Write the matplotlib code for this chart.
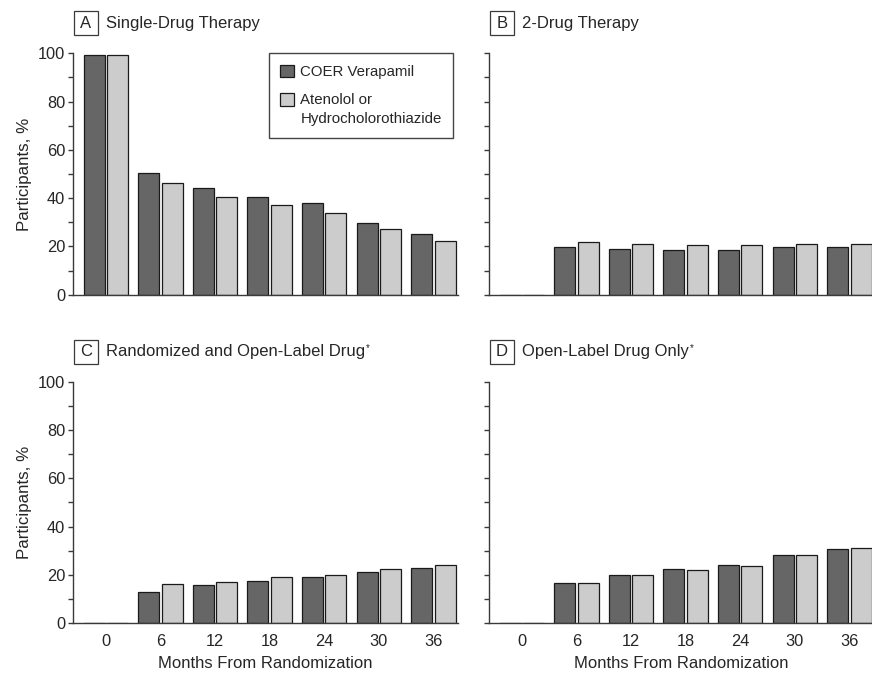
import matplotlib
matplotlib.use("Agg")
import matplotlib.pyplot as plt
import numpy as np
from matplotlib.patches import Rectangle

plt.rcParams['font.family'] = ['Liberation Sans', 'DejaVu Sans']

months = ["0", "6", "12", "18", "24", "30", "36"]
series_names = ["COER Verapamil", "Atenolol or\nHydrocholorothiazide"]

single_verapamil = [99.5, 50.5, 44.1, 40.3, 37.9, 29.6, 25.1]
single_comparator = [99.3, 46.1, 40.3, 37.0, 33.7, 27.3, 22.4]

two_verapamil = [0, 19.6, 19.1, 18.5, 18.5, 19.6, 19.6]
two_comparator = [0, 21.7, 21.1, 20.6, 20.6, 20.9, 20.9]

rand_open_verapamil = [0, 13.0, 15.8, 17.6, 19.0, 21.2, 23.0]
rand_open_comparator = [0, 16.1, 17.1, 19.0, 20.1, 22.3, 24.0]

open_only_verapamil = [0, 16.6, 19.9, 22.6, 24.0, 28.2, 30.6]
open_only_comparator = [0, 16.6, 19.8, 22.1, 23.7, 28.2, 31.3]

panel_letters = ["A", "B", "C", "D"]
panel_titles = ["Single-Drug Therapy", "2-Drug Therapy",
                "Randomized and Open-Label Drug*", "Open-Label Drug Only*"]

DARK = "#666666"
LIGHT = "#cccccc"
EDGE = "#1a1a1a"
AXC = "#3a3a3a"
TXT = "#262626"
FS = 11.8

W, H = 872, 674
fig = plt.figure(figsize=(W / 100, H / 100), dpi=100)

def ax_rect(x0, y_top, x1, y_bot):
    return [x0 / W, 1 - y_bot / H, (x1 - x0) / W, (y_bot - y_top) / H]

rects = [
    ax_rect(73, 53.3, 458, 294.7),
    ax_rect(489, 53.3, 874, 294.7),
    ax_rect(73, 381.7, 458, 623.3),
    ax_rect(489, 381.7, 874, 623.3),
]

data = [
    (single_verapamil, single_comparator),
    (two_verapamil, two_comparator),
    (rand_open_verapamil, rand_open_comparator),
    (open_only_verapamil, open_only_comparator),
]

x = np.arange(len(months))
bw = 0.385
off = 0.215

for i, (rect, (v, c)) in enumerate(zip(rects, data)):
    ax = fig.add_axes(rect)
    ax.bar(x - off, v, width=bw, color=DARK, edgecolor=EDGE, linewidth=0.9,
           label=series_names[0], zorder=3)
    ax.bar(x + off, c, width=bw, color=LIGHT, edgecolor=EDGE, linewidth=0.9,
           label=series_names[1], zorder=3)
    ax.set_xlim(-0.6, 6.45)
    ax.set_ylim(0, 100)
    for s in ["top", "right"]:
        ax.spines[s].set_visible(False)
    for s in ["left", "bottom"]:
        ax.spines[s].set_color(AXC)
        ax.spines[s].set_linewidth(1.0)
    ax.spines["bottom"].set_zorder(4)
    ax.set_yticks(np.arange(0, 101, 20))
    ax.set_yticks(np.arange(10, 100, 20), minor=True)
    ax.tick_params(axis="y", which="both", direction="out", length=3.6,
                   width=1.0, color=AXC, labelsize=FS, labelcolor=TXT, pad=2)
    if i in (1, 3):
        ax.tick_params(axis="y", labelleft=False)
    else:
        ax.set_ylabel("Participants, %", fontsize=12.2, color=TXT, labelpad=4)
    ax.set_xticks(x)
    if i >= 2:
        ax.set_xticklabels(months)
        ax.tick_params(axis="x", length=0, labelsize=FS, labelcolor=TXT, pad=8)
        ax.set_xlabel("Months From Randomization", fontsize=12, color=TXT, labelpad=5)
    else:
        ax.tick_params(axis="x", length=0, labelbottom=False)

    # panel heading: boxed letter followed by title
    fx0 = rect[0]
    ftop = rect[1] + rect[3]
    bx = fx0 + 1 / W
    by = ftop + 18 / H
    fig.patches.append(Rectangle((bx, by), 24 / W, 24 / H, transform=fig.transFigure,
                                 fill=False, edgecolor=AXC, linewidth=0.9))
    fig.text(bx + 12 / W, by + 12 / H, panel_letters[i], ha="center", va="center",
             fontsize=12, color=TXT)
    title = panel_titles[i]
    if title.endswith("*"):
        t = fig.text(bx + 32 / W, by + 12 / H, title[:-1], ha="left", va="center",
                     fontsize=12, color=TXT)
        fig.canvas.draw()
        bb = t.get_window_extent()
        fig.text(bb.x1 / W + 0.5 / W, by + 16 / H, "*", ha="left", va="center",
                 fontsize=7, color=TXT)
    else:
        fig.text(bx + 32 / W, by + 12 / H, title, ha="left", va="center",
                 fontsize=12, color=TXT)

    if i == 0:
        leg = ax.legend(loc="upper right", bbox_to_anchor=((453 - 73) / 385, 1.0),
                        fontsize=10.8, frameon=True, fancybox=False,
                        edgecolor="#444444", framealpha=1,
                        handlelength=0.95, handleheight=0.95, handletextpad=0.4,
                        borderpad=0.75, labelspacing=0.95, borderaxespad=0.0)
        leg.get_frame().set_linewidth(1.0)
        for t in leg.get_texts():
            t.set_color(TXT)
            t.set_linespacing(1.45)
        # align the second swatch with the first line of its two-line label
        h = leg.legend_handles[1]
        h.set_y(h.get_y() + 0.5 * 1.45 * 10.8)

fig.savefig("out.png", dpi=100, facecolor="white")
